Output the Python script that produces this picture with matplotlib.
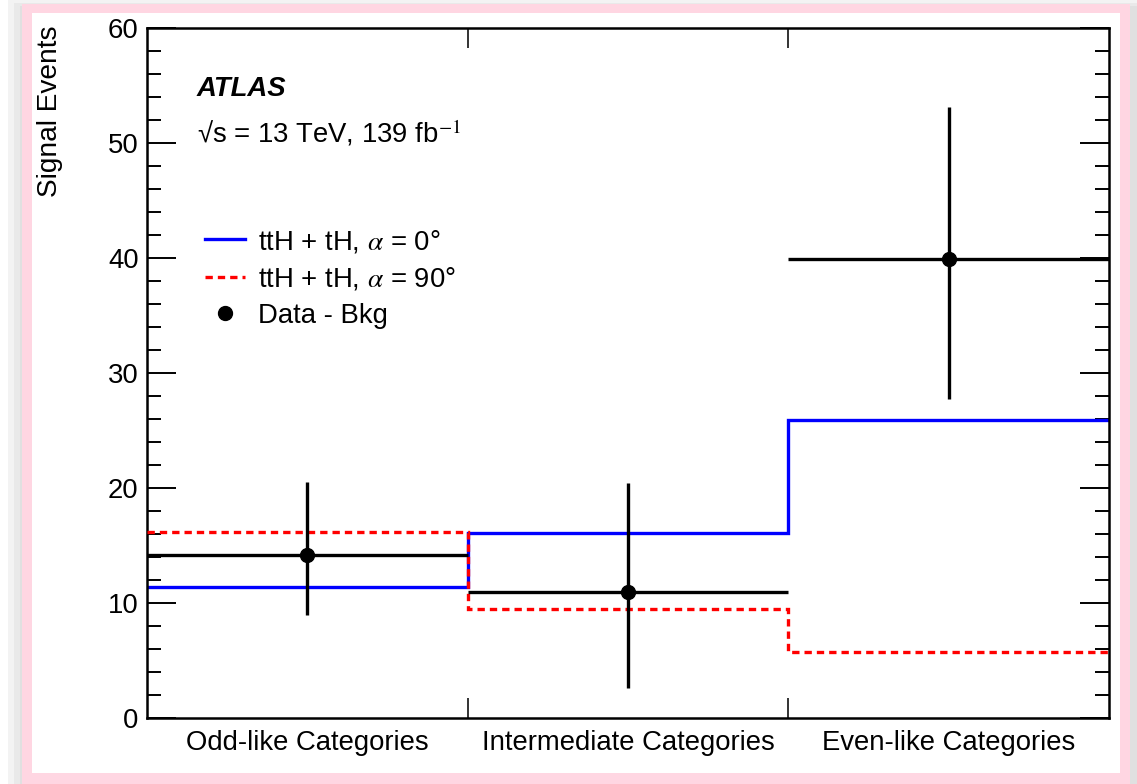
import matplotlib
matplotlib.use("Agg")
import matplotlib.pyplot as plt
from matplotlib.patches import Rectangle
from matplotlib.lines import Line2D

plt.rcParams['font.family'] = ['Liberation Sans', 'DejaVu Sans']
plt.rcParams['mathtext.fontset'] = 'stix'

# ---------------- DATA ----------------
categories = ["Odd-like Categories", "Intermediate Categories", "Even-like Categories"]
bin_edges = [0, 1, 2, 3]
bin_centers = [0.5, 1.5, 2.5]
bin_halfwidth = [0.5, 0.5, 0.5]

signal_alpha0 = [11.4, 16.1, 25.9]
signal_alpha90 = [16.2, 9.5, 5.7]

data_minus_bkg = [14.2, 11.0, 39.9]
err_down = [5.2, 8.4, 12.2]
err_up = [6.3, 9.4, 13.2]
# --------------------------------------

FS = 19.8
W, H = 1137, 784
fig = plt.figure(figsize=(W / 100, H / 100), dpi=100)
fig.patch.set_facecolor("white")

# soft shadow + pink frame around the canvas
for pad, col in [(0, "#f3f3f3"), (6, "#e9e9e9"), (12, "#e0e0e0")]:
    fig.patches.append(Rectangle(((22 - 14 + pad) / W, 0), (1137 - 8 - pad) / W, (784 - pad / 2) / H,
                                 transform=fig.transFigure, facecolor=col, edgecolor="none", zorder=-10))
fig.patches.append(Rectangle((22 / W, 0), (1130 - 22) / W, (784 - 4) / H,
                             transform=fig.transFigure, facecolor="#ffd6e2", edgecolor="none", zorder=-9))
fig.patches.append(Rectangle((32 / W, (784 - 773) / H), (1120 - 32) / W, (773 - 13) / H,
                             transform=fig.transFigure, facecolor="white", edgecolor="none", zorder=-8))

ax = fig.add_axes([147 / W, 1 - 718 / H, (1109 - 147) / W, (718 - 28) / H])
ax.set_facecolor("none")

ax.stairs(signal_alpha0, bin_edges, color="#0000ff", lw=2.4, baseline=None, zorder=2)
ax.stairs(signal_alpha90, bin_edges, color="#ff0000", lw=2.4, baseline=None, zorder=3,
          linestyle=(0, (2.2, 1.5)))
ax.errorbar(bin_centers, data_minus_bkg, xerr=bin_halfwidth, yerr=[err_down, err_up],
            fmt="o", color="black", ms=10, elinewidth=2.4, capsize=0, zorder=4)

ax.set_xlim(0, 3)
ax.set_ylim(0, 60)

# bin boundaries as ticks, category names centred in the bins
ax.set_xticks([1, 2])
ax.set_xticklabels([])
ax.set_xticks(bin_centers, minor=True)
ax.set_xticklabels(categories, minor=True)
ax.tick_params(axis="x", which="major", direction="in", length=14.5, width=1.4,
               top=True, bottom=True, color="#333333")
ax.tick_params(axis="x", which="minor", length=0, pad=9, labelsize=FS)

ax.set_yticks(range(0, 61, 10))
ax.set_yticks(range(0, 61, 2), minor=True)
ax.tick_params(axis="y", which="major", direction="in", length=21, width=1.4,
               left=True, right=True, labelsize=FS, pad=6)
ax.tick_params(axis="y", which="minor", direction="in", length=10, width=1.4,
               left=True, right=True)

for sp in ax.spines.values():
    sp.set_linewidth(1.8)

fig.text(50 / W, 1 - 111 / H, "Signal Events", rotation=90, ha="center", va="center",
         fontsize=20.2)

ax.text(0.052, 0.911, "ATLAS", transform=ax.transAxes, fontsize=FS,
        fontweight="bold", fontstyle="italic", va="center", ha="left")
ax.text(0.052, 0.848, "√s = 13 TeV, 139 fb$^{-1}$", transform=ax.transAxes,
        fontsize=FS, va="center", ha="left")

handles = [
    Line2D([], [], color="#0000ff", lw=2.4),
    Line2D([], [], color="#ff0000", lw=2.4, linestyle=(0, (2.2, 1.5))),
    Line2D([], [], color="black", marker="o", ms=10, linestyle="none"),
]
labels = [r"ttH + tH, $\alpha$ = 0°", r"ttH + tH, $\alpha$ = 90°", "Data - Bkg"]
ax.legend(handles, labels, loc="upper left", bbox_to_anchor=(0.0603, 0.710),
          frameon=False, fontsize=FS, handlelength=1.44, handletextpad=0.47,
          borderpad=0, borderaxespad=0, labelspacing=0.38)

fig.savefig("out.png", dpi=100)
